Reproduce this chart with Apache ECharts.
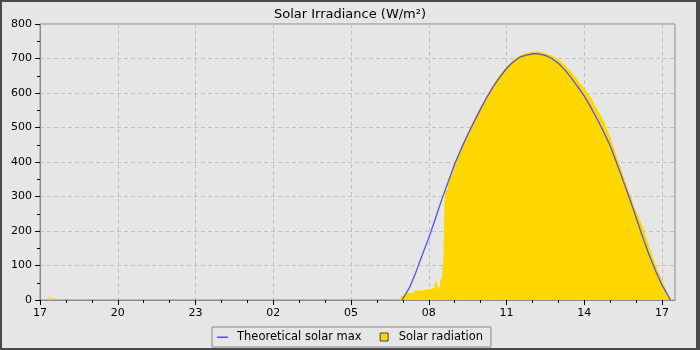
<!DOCTYPE html>
<html><head><meta charset="utf-8">
<script src="https://cdn.jsdelivr.net/npm/echarts@6/dist/echarts.min.js"></script>
<style>html,body{margin:0;padding:0;background:#e6e6e6}#c{width:700px;height:350px}</style>
</head><body><div id="c"></div>
<script>
// Time strings: "<day> HH:MM", day 1 starts 17:00
const xTickLabels = ['17','20','23','02','05','08','11','14','17'];
const yTickValues = [0,100,200,300,400,500,600,700,800];

const theoTimes = ['2 06:58','2 07:00','2 07:15','2 07:30','2 07:45','2 08:00','2 08:15','2 08:30','2 08:45',
  '2 09:00','2 09:15','2 09:30','2 09:45','2 10:00','2 10:15','2 10:30','2 10:45','2 11:00','2 11:15',
  '2 11:30','2 11:45','2 12:00','2 12:08','2 12:15','2 12:30','2 12:45','2 13:00','2 13:15','2 13:30',
  '2 13:45','2 14:00','2 14:15','2 14:30','2 14:45','2 15:00','2 15:15','2 15:30','2 15:45','2 16:00',
  '2 16:15','2 16:30','2 16:45','2 17:00','2 17:15','2 17:19'];
const theoValues = [0,3,35,80,131,180,235,291,343,
  394,438,479,517,554,589,620,647,671,690,
  703,710,713,714,713,709,700,686,667,644,
  618,591,559,524,487,447,397,346,294,239,
  183,131,85,43,10,0];

// null marks a gap (night, no radiation)
const radTimes = ['1 17:21','1 17:21','1 17:24','1 17:24','1 17:35','1 17:35','1 17:36',
  '2 06:45','2 06:46','2 06:55','2 06:55','2 07:04','2 07:04','2 07:27','2 07:27','2 07:42','2 07:42',
  '2 08:02','2 08:02','2 08:13','2 08:13','2 08:17','2 08:17','2 08:21','2 08:21','2 08:26','2 08:26',
  '2 08:31','2 08:31','2 08:34','2 08:34','2 08:36','2 08:36','2 08:38','2 08:38','2 08:44','2 08:44',
  '2 08:48','2 08:48','2 08:54','2 09:00','2 09:15','2 09:30','2 09:45','2 10:00','2 10:15','2 10:30',
  '2 10:45','2 11:00','2 11:15','2 11:30','2 11:45','2 12:00','2 12:15','2 12:30','2 12:45','2 13:00',
  '2 13:15','2 13:30','2 13:45','2 14:00','2 14:15','2 14:30','2 14:45','2 15:00','2 15:15','2 15:30',
  '2 15:45','2 16:00','2 16:15','2 16:30','2 16:45','2 17:00','2 17:15','2 17:21','2 17:25','2 17:26'];
const radValues = [0,12,12,5,5,0,null,
  0,3,3,12,12,20,20,27,27,31,
  31,34,34,44,44,56,56,37,37,60,
  60,87,87,116,116,271,271,319,319,338,
  338,358,362,398,444,485,523,560,595,627,
  654,677,696,709,716,720,720,715,708,697,
  681,661,637,612,587,553,518,473,418,363,
  307,258,214,156,102,58,14,6,3,0];

function toOffset(s) {
  const parts = s.split(' ');
  const hm = parts[1].split(':').map(Number);
  return (Number(parts[0]) - 1) * 24 + hm[0] + hm[1] / 60 - 17;
}
const theoData = theoTimes.map((t, i) => [toOffset(t), theoValues[i]]);
const radData = radTimes.map((t, i) => [toOffset(t), radValues[i] === null ? '-' : radValues[i]]);

const majorX = xTickLabels.map((_, i) => i * 3);
const minorX = [];
for (let h = 1; h < 24.5; h++) if (h % 3 !== 0) minorX.push(h);

const FONT = 'DejaVu Sans';
const chart = echarts.init(document.getElementById('c'));
chart.setOption({
  backgroundColor: '#e6e6e6',
  animation: false,
  textStyle: { fontFamily: FONT },
  title: {
    text: 'Solar Irradiance (W/m²)', left: 'center', top: 3,
    textStyle: { fontSize: 13, fontWeight: 'normal', color: '#000', fontFamily: FONT }
  },
  grid: { left: 40, right: 25, top: 24, bottom: 50, show: true, borderColor: '#8c8c8c', borderWidth: 1 },
  legend: {
    top: 327, left: 'center',
    data: [
      { name: 'Theoretical solar max', icon: 'path://M0,0 M0,3 L10,3 L10,4.4 L0,4.4 Z M10,7',
        itemStyle: { color: '#5050ff', borderWidth: 0 } },
      { name: 'Solar radiation', icon: 'path://M0,0 L10,0 L10,10 L0,10 Z',
        itemStyle: { color: '#FFD700', borderColor: '#444', borderWidth: 1 } }
    ],
    itemWidth: 11, itemHeight: 8, itemGap: 18,
    padding: [4, 8, 4, 5],
    borderColor: '#888', borderWidth: 1, backgroundColor: '#e6e6e6',
    textStyle: { fontSize: 11.5, color: '#000', fontFamily: FONT, padding: [0, 0, 0, 4] }
  },
  xAxis: [{
    type: 'value', min: 0, max: 24.5, interval: 3,
    axisLine: { lineStyle: { color: '#8c8c8c' } },
    axisTick: { length: 5, lineStyle: { color: '#000' }, customValues: majorX },
    axisLabel: {
      color: '#000', fontSize: 11, margin: 8, customValues: majorX,
      formatter: v => { const i = Math.round(v / 3); return Math.abs(v - i * 3) < 1e-6 ? xTickLabels[i] : ''; }
    },
    splitLine: { show: true, lineStyle: { color: '#c0c0c0', type: [4, 3] } }
  }, {
    type: 'value', min: 0, max: 24.5, position: 'bottom',
    axisLine: { show: false },
    axisTick: { show: true, length: 3, lineStyle: { color: '#000' }, customValues: minorX },
    axisLabel: { show: false },
    splitLine: { show: false }
  }],
  yAxis: {
    type: 'value', min: 0, max: 800, interval: 100,
    axisLine: { show: true, lineStyle: { color: '#8c8c8c' } },
    axisTick: { show: true, length: 5, lineStyle: { color: '#000' } },
    minorTick: { show: true, splitNumber: 2, length: 3, lineStyle: { color: '#000' } },
    axisLabel: { color: '#000', fontSize: 11, margin: 8 },
    splitLine: { show: true, lineStyle: { color: '#c0c0c0', type: [4, 3] } }
  },
  series: [{
    name: 'Solar radiation', type: 'line', xAxisIndex: 0, data: radData,
    symbol: 'none', connectNulls: false, lineStyle: { width: 0, opacity: 0 },
    areaStyle: { color: '#FFD700', opacity: 1 }, itemStyle: { color: '#FFD700' }, z: 2
  }, {
    name: 'Theoretical solar max', type: 'line', xAxisIndex: 0, data: theoData,
    symbol: 'none', lineStyle: { color: '#5050ff', width: 1.3 }, itemStyle: { color: '#5050ff' }, z: 3
  }],
  graphic: [{
    type: 'rect', silent: true, z: 100,
    shape: { x: 1, y: 1, width: 697, height: 348 },
    style: { fill: null, stroke: '#4a4a4a', lineWidth: 2 }
  }, {
    type: 'rect', silent: true, z: 100,
    shape: { x: 696, y: 0, width: 4, height: 350 },
    style: { fill: '#4a4a4a' }
  }]
});
</script></body></html>
